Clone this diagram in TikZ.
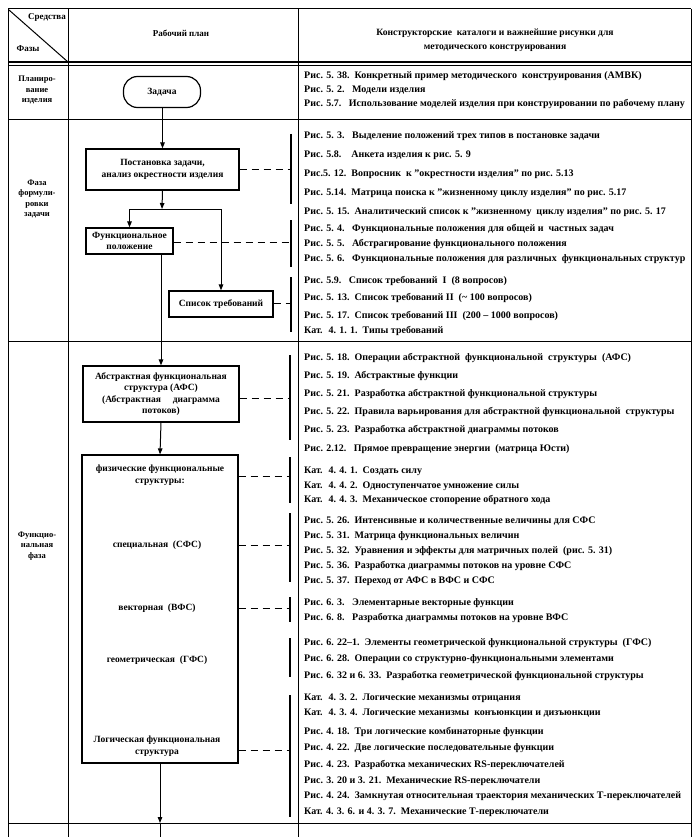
\documentclass[tikz,border=0pt]{standalone}
\usepackage{fontspec}
\setmainfont{Liberation Serif}
\usetikzlibrary{arrows.meta}
\newcommand\myfs{\fontsize{10}{12}\selectfont}
\newcommand\boxfs{\fontsize{9.5}{11.5}\selectfont}
\newcommand\hdfs{\fontsize{9}{11}\selectfont}
\newcommand\phfs{\fontsize{8.5}{10.6}\selectfont}
\newcommand\rl[4]{\node[rtxt] (#1) at (304,#2) {#3\hspace{0.5em}#4};}
\tikzset{
  frame/.style={line width=1pt},
  box/.style={draw, line width=1.2pt, align=center, font=\boxfs\bfseries, inner sep=2pt},
  lbl/.style={align=center, font=\boxfs\bfseries, inner sep=0pt},
  hlbl/.style={align=center, font=\hdfs\bfseries, inner sep=0pt},
  plbl/.style={align=center, font=\phfs\bfseries, inner sep=0pt},
  rtxt/.style={anchor=west, font=\myfs\bfseries, inner sep=0pt},
  flow/.style={line width=1pt, -{Triangle[length=6pt,width=4.5pt]}},
  plain/.style={line width=1pt},
  dashline/.style={line width=1pt, dash pattern=on 7pt off 5pt},
  bar/.style={line width=1.3pt}
}
\begin{document}
\begin{tikzpicture}[x=1pt,y=-1pt]
\useasboundingbox (0,0) rectangle (700,837);
% ---------- table frame ----------
\draw[frame] (8,9) -- (691,9);
\draw[line width=1.6pt] (8,62) -- (691,62);
\draw[line width=1.6pt] (8,65.5) -- (691,65.5);
\draw[frame] (8,120) -- (691,120);
\draw[frame] (8,341) -- (691,341);
\draw[frame] (8,823) -- (691,823);
\foreach \xx in {8,68,298,691} \draw[frame] (\xx,9) -- (\xx,837);
\draw[plain] (9,10) -- (68,62);
% ---------- header ----------
\node[hlbl] (hsr) at (47,17) {Средства};
\node[hlbl] (hfa) at (28,49) {Фазы};
\node[hlbl] (hplan) at (181,33) {Рабочий план};
\node[hlbl, font=\fontsize{9.6}{11}\selectfont\bfseries] (hcat) at (495,40) {Конструкторские \ каталоги и важнейшие рисунки для\\[3pt]методического конструирования};
% ---------- phase labels ----------
\node[plbl] (p1) at (37,90) {Планиро-\\вание\\изделия};
\node[plbl] (p2) at (37,199) {Фаза\\формули-\\ровки\\задачи};
\node[plbl] (p3) at (37,546) {Функцио-\\нальная\\фаза};
% ---------- work plan boxes ----------
\node[box, rounded corners=14pt, minimum width=77pt, minimum height=31pt] (zad) at (162,92) {Задача};
\node[box, minimum width=153pt, minimum height=41pt] (post) at (162.5,169.5) {Постановка задачи,\\анализ окрестности изделия};
\node[box, minimum width=87pt, minimum height=26pt, inner sep=1pt] (fpol) at (129.5,241) {Функциональное\\положение};
\node[box, minimum width=104pt, minimum height=26pt] (spis) at (221,304) {Список требований};
\node[box, minimum width=156pt, minimum height=56pt] (afs) at (161,394) {Абстрактная функциональная\\структура (АФС)\\(Абстрактная \quad диаграмма\\потоков)};
\node[draw, line width=1.2pt, minimum width=156pt, minimum height=308pt, inner sep=0pt] (big) at (160,609) {};
\node[lbl] (fiz) at (160,475) {физические функциональные\\структуры:};
\node[lbl] (sfs) at (157,545) {специальная \ (СФС)};
\node[lbl] (vfs) at (157,608) {векторная \ (ВФС)};
\node[lbl] (gfs) at (157,660) {геометрическая \ (ГФС)};
\node[lbl] (lfs) at (157,746) {Логическая функциональная\\структура};
% ---------- flow connectors ----------
\coordinate (j) at (162,209);
\coordinate (jl) at (129.5,209);
\coordinate (jr) at (221,209);
\coordinate (bot) at (160,823);
\coordinate (botend) at (160,837);
\draw[flow] (zad.south -| post.north) -- (post.north);
\draw[flow] (post.south) -- (j);
\draw[plain] (jl) -- (jr);
\draw[flow] (jl) -- (fpol.north);
\draw[flow] (jr) -- (spis.north);
\draw[flow] (fpol.south -| afs.north) -- (afs.north);
\draw[flow] (afs.south) -- (big.north);
\draw[flow] (big.south -| bot) -- (bot);
\draw[plain] (bot) -- (botend);
% ---------- brackets ----------
\coordinate (b1) at (291,170);
\coordinate (b2) at (291,242);
\coordinate (b3) at (291,303);
\coordinate (b4) at (290,398);
\coordinate (b5) at (290,476);
\coordinate (b6) at (290,545);
\coordinate (b7) at (290,608);
\coordinate (b8) at (290,750);
\draw[bar] (291,134) -- (291,204);
\draw[bar] (291,220) -- (291,267);
\draw[bar] (291,277) -- (291,332);
\draw[bar] (290,355) -- (290,440);
\draw[bar] (290,457) -- (290,503);
\draw[bar] (290,513) -- (290,582);
\draw[bar] (290,597) -- (290,622);
\draw[bar] (290,638) -- (290,677);
\draw[bar] (290,695) -- (290,817);
\draw[dashline] (post.east |- b1) -- (b1);
\draw[dashline] (fpol.east |- b2) -- (b2);
\draw[dashline] (spis.east |- b3) -- (b3);
\draw[dashline] (afs.east |- b4) -- (b4);
\draw[dashline] (big.east |- b5) -- (b5);
\draw[dashline] (big.east |- b6) -- (b6);
\draw[dashline] (big.east |- b7) -- (b7);
\draw[dashline] (big.east |- b8) -- (b8);
% ---------- catalogue references ----------
\rl{r1}{76}{Рис. 5. 38.}{Конкретный пример методического \ конструирования (АМВК)}
\rl{r2}{90}{Рис. 5. 2.}{\ Модели изделия}
\rl{r3}{104}{Рис. 5.7.}{\ Использование моделей изделия при конструировании по рабочему плану}
\rl{r4}{136}{Рис. 5. 3.}{\ Выделение положений трех типов в постановке задачи}
\rl{r5}{155}{Рис. 5.8.}{\ \ Анкета изделия к рис. 5. 9}
\rl{r6}{174}{Рис.5. 12.}{Вопросник \ к ''окрестности изделия'' по рис. 5.13}
\rl{r7}{193}{Рис. 5.14.}{Матрица поиска к ''жизненному циклу изделия'' по рис. 5.17}
\rl{r8}{212}{Рис. 5. 15.}{Аналитический список к ''жизненному \ циклу изделия'' по рис. 5. 17}
\rl{r9}{229}{Рис. 5. 4.}{\ Функциональные положения для общей и \ частных задач}
\rl{r10}{244}{Рис. 5. 5.}{\ Абстрагирование функционального положения}
\rl{r11}{259}{Рис. 5. 6.}{\ Функциональные положения для различных \ функциональных структур}
\rl{r12}{281}{Рис. 5.9.}{\ Список требований \ I \ (8 вопросов)}
\rl{r13}{298}{Рис. 5. 13.}{Список требований II \ (\textasciitilde\ 100 вопросов)}
\rl{r14}{316}{Рис. 5. 17.}{Список требований III \ (200 -- 1000 вопросов)}
\rl{r15}{331}{Кат. \ 4. 1. 1.}{Типы требований}
\rl{r16}{358}{Рис. 5. 18.}{Операции абстрактной \ функциональной \ структуры \ (АФС)}
\rl{r17}{376}{Рис. 5. 19.}{Абстрактные функции}
\rl{r18}{394}{Рис. 5. 21.}{Разработка абстрактной функциональной структуры}
\rl{r19}{412}{Рис. 5. 22.}{Правила варьирования для абстрактной функциональной \ структуры}
\rl{r20}{430}{Рис. 5. 23.}{Разработка абстрактной диаграммы потоков}
\rl{r21}{449}{Рис. 2.12.}{\ Прямое превращение энергии \ (матрица Юсти)}
\rl{r22}{471}{Кат. \ 4. 4. 1.}{Создать силу}
\rl{r23}{486}{Кат. \ 4. 4. 2.}{Одноступенчатое умножение силы}
\rl{r24}{500}{Кат. \ 4. 4. 3.}{Механическое стопорение обратного хода}
\rl{r25}{521}{Рис. 5. 26.}{Интенсивные и количественные величины для СФС}
\rl{r26}{536}{Рис. 5. 31.}{Матрица функциональных величин}
\rl{r27}{551}{Рис. 5. 32.}{Уравнения и эффекты для матричных полей \ (рис. 5. 31)}
\rl{r28}{566}{Рис. 5. 36.}{Разработка диаграммы потоков на уровне СФС}
\rl{r29}{581}{Рис. 5. 37.}{Переход от АФС в ВФС и СФС}
\rl{r30}{603}{Рис. 6. 3.}{\ Элементарные векторные функции}
\rl{r31}{618}{Рис. 6. 8.}{\ Разработка диаграммы потоков на уровне ВФС}
\rl{r32}{643}{Рис. 6. 22--1.}{Элементы геометрической функциональной структуры \ (ГФС)}
\rl{r33}{659}{Рис. 6. 28.}{Операции со структурно-функциональными элементами}
\rl{r34}{676}{Рис. 6. 32 и 6. 33.}{Разработка геометрической функциональной структуры}
\rl{r35}{698}{Кат. \ 4. 3. 2.}{Логические механизмы отрицания}
\rl{r36}{713}{Кат. \ 4. 3. 4.}{Логические механизмы \ конъюнкции и дизъюнкции}
\rl{r37}{732}{Рис. 4. 18.}{Три логические комбинаторные функции}
\rl{r38}{748}{Рис. 4. 22.}{Две логические последовательные функции}
\rl{r39}{765}{Рис. 4. 23.}{Разработка механических RS-переключателей}
\rl{r40}{781}{Рис. 3. 20 и 3. 21.}{Механические RS-переключатели}
\rl{r41}{796}{Рис. 4. 24.}{Замкнутая относительная траектория механических Т-переключателей}
\rl{r42}{812}{Кат. 4. 3. 6. и 4. 3. 7.}{Механические Т-переключатели}
\end{tikzpicture}
\end{document}
